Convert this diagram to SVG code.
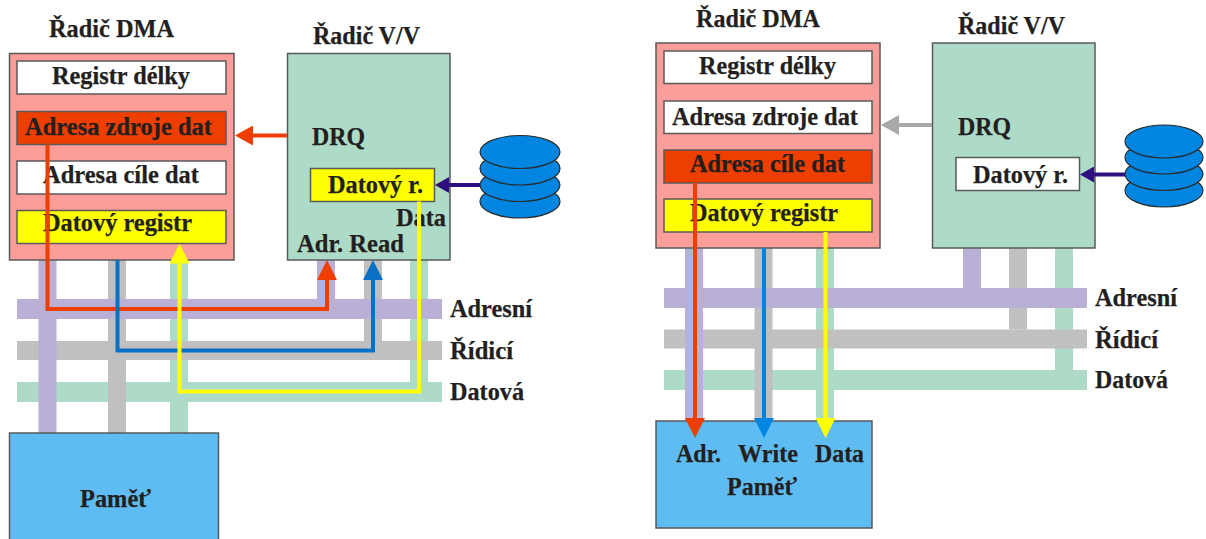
<svg xmlns="http://www.w3.org/2000/svg" width="1206" height="539" viewBox="0 0 1206 539">
<style>
text{font-family:"Liberation Serif","Times New Roman",serif;font-weight:700;font-size:25.5px;fill:#231f20;stroke:#231f20;stroke-width:.25}
.box{stroke:#5a5a5a;stroke-width:1.5}
.dma{fill:#fb9d98}.io{fill:#addbc8}.mem{fill:#5fbcf2}
.wh{fill:#fff}.re{fill:#ee3f00}.ye{fill:#ffff00}
.bp{fill:#bab0d5}.bg{fill:#c0c0c0}.bt{fill:#addbc8}
.disk{fill:#0085e0;stroke:#2a2a2a;stroke-width:1.2}
.ln{fill:none;stroke-width:4;stroke-linejoin:miter}
.lr{stroke:#ee3f00}.lb{stroke:#0a70c4}.lc{stroke:#0085e0}.ly{stroke:#ffff00}.lv{stroke:#2f0f80}.lg{stroke:#a8a8a8}
</style>
<defs>
<marker id="hR" markerUnits="userSpaceOnUse" markerWidth="20" markerHeight="20" refX="0" refY="10" orient="auto"><path d="M0 0L20 10L0 20z" fill="#ee3f00"/></marker>
<marker id="hB" markerUnits="userSpaceOnUse" markerWidth="20" markerHeight="20" refX="0" refY="10" orient="auto"><path d="M0 0L20 10L0 20z" fill="#0a70c4"/></marker>
<marker id="hC" markerUnits="userSpaceOnUse" markerWidth="20" markerHeight="20" refX="0" refY="10" orient="auto"><path d="M0 0L20 10L0 20z" fill="#0085e0"/></marker>
<marker id="hY" markerUnits="userSpaceOnUse" markerWidth="20" markerHeight="20" refX="0" refY="10" orient="auto"><path d="M0 0L20 10L0 20z" fill="#ffff00"/></marker>
<marker id="sR" markerUnits="userSpaceOnUse" markerWidth="18" markerHeight="20" refX="0" refY="10" orient="auto"><path d="M0 0L18 10L0 20z" fill="#ee3f00"/></marker>
<marker id="sG" markerUnits="userSpaceOnUse" markerWidth="18" markerHeight="20" refX="0" refY="10" orient="auto"><path d="M0 0L18 10L0 20z" fill="#a8a8a8"/></marker>
<marker id="sV" markerUnits="userSpaceOnUse" markerWidth="14" markerHeight="16" refX="0" refY="8" orient="auto"><path d="M0 0L14 8L0 16z" fill="#2f0f80"/></marker>
</defs>

<g id="sbernice-vlevo">
<rect class="bt" x="17" y="382" width="425" height="20"/>
<rect class="bt" x="170" y="260" width="18" height="173"/>
<rect class="bt" x="410" y="260" width="18" height="122"/>
<rect class="bg" x="17" y="341" width="425" height="19"/>
<rect class="bg" x="108" y="260" width="18" height="173"/>
<rect class="bg" x="364" y="260" width="18" height="81"/>
<rect class="bp" x="17" y="299" width="425" height="20"/>
<rect class="bp" x="38.500" y="260" width="18" height="173"/>
<rect class="bp" x="317" y="260" width="18" height="39"/>
<text x="450" y="317" textLength="82" lengthAdjust="spacingAndGlyphs">Adresní</text>
<text x="450" y="359" textLength="63" lengthAdjust="spacingAndGlyphs">Řídicí</text>
<text x="450" y="400" textLength="74" lengthAdjust="spacingAndGlyphs">Datová</text>
</g>

<g id="sbernice-vpravo">
<rect class="bt" x="664" y="370" width="423" height="20"/>
<rect class="bt" x="816" y="248" width="18" height="173"/>
<rect class="bt" x="1055" y="248" width="18" height="122"/>
<rect class="bg" x="664" y="329.500" width="423" height="19"/>
<rect class="bg" x="754.500" y="248" width="18" height="173"/>
<rect class="bg" x="1009" y="248" width="18" height="81.500"/>
<rect class="bp" x="664" y="288" width="423" height="20"/>
<rect class="bp" x="685" y="248" width="18" height="173"/>
<rect class="bp" x="963" y="248" width="18" height="40"/>
<text x="1095" y="306" textLength="82" lengthAdjust="spacingAndGlyphs">Adresní</text>
<text x="1095" y="348" textLength="63" lengthAdjust="spacingAndGlyphs">Řídicí</text>
<text x="1095" y="388" textLength="73" lengthAdjust="spacingAndGlyphs">Datová</text>
</g>

<g id="dma-vlevo">
<text x="49" y="37" textLength="125" lengthAdjust="spacingAndGlyphs">Řadič DMA</text>
<rect class="box dma" x="9.500" y="53.500" width="224.500" height="206.500"/>
<rect class="box wh" x="17" y="61" width="209" height="33"/>
<rect class="box re" x="17" y="111.500" width="209" height="33"/>
<rect class="box wh" x="17" y="161" width="209" height="33"/>
<rect class="box ye" x="17" y="210.500" width="209" height="33"/>
<text x="52" y="84" textLength="138" lengthAdjust="spacingAndGlyphs">Registr délky</text>
<text x="25" y="135" textLength="187" lengthAdjust="spacingAndGlyphs">Adresa zdroje dat</text>
<text x="43" y="183" textLength="156" lengthAdjust="spacingAndGlyphs">Adresa cíle dat</text>
<text x="43" y="231" textLength="149" lengthAdjust="spacingAndGlyphs">Datový registr</text>
</g>

<g id="vv-vlevo">
<text x="313" y="44" textLength="107" lengthAdjust="spacingAndGlyphs">Řadič V/V</text>
<rect class="box io" x="287.500" y="53.500" width="162.500" height="206.500"/>
<text x="312" y="145" textLength="53" lengthAdjust="spacingAndGlyphs">DRQ</text>
<rect class="box ye" x="310.500" y="168.500" width="124" height="33"/>
<text x="328" y="193" textLength="95" lengthAdjust="spacingAndGlyphs">Datový r.</text>
<text x="396" y="226" textLength="50" lengthAdjust="spacingAndGlyphs">Data</text>
<text x="297" y="252" textLength="107" lengthAdjust="spacingAndGlyphs">Adr. Read</text>
</g>

<g id="disk-vlevo">
<ellipse class="disk" cx="520" cy="201.500" rx="40" ry="16.500"/>
<ellipse class="disk" cx="520" cy="185" rx="40" ry="16.500"/>
<ellipse class="disk" cx="520" cy="168.500" rx="40" ry="16.500"/>
<ellipse class="disk" cx="520" cy="152" rx="40" ry="16.500"/>
</g>

<g id="pamet-vlevo">
<rect class="box mem" x="9.500" y="433" width="209" height="110"/>
<text x="80" y="507" textLength="71" lengthAdjust="spacingAndGlyphs">Paměť</text>
</g>

<g id="dma-vpravo">
<text x="696" y="27" textLength="124" lengthAdjust="spacingAndGlyphs">Řadič DMA</text>
<rect class="box dma" x="656" y="43" width="224" height="205"/>
<rect class="box wh" x="664" y="51" width="208" height="32.500"/>
<rect class="box wh" x="664" y="101" width="208" height="32.500"/>
<rect class="box re" x="664" y="150" width="208" height="33"/>
<rect class="box ye" x="664" y="199" width="208" height="33"/>
<text x="699" y="74" textLength="137" lengthAdjust="spacingAndGlyphs">Registr délky</text>
<text x="672" y="125" textLength="186" lengthAdjust="spacingAndGlyphs">Adresa zdroje dat</text>
<text x="690" y="172" textLength="155" lengthAdjust="spacingAndGlyphs">Adresa cíle dat</text>
<text x="690" y="221" textLength="148" lengthAdjust="spacingAndGlyphs">Datový registr</text>
</g>

<g id="vv-vpravo">
<text x="958" y="34" textLength="107" lengthAdjust="spacingAndGlyphs">Řadič V/V</text>
<rect class="box io" x="932.500" y="43" width="162.500" height="205"/>
<text x="958" y="135" textLength="53" lengthAdjust="spacingAndGlyphs">DRQ</text>
<rect class="box wh" x="956" y="157.500" width="123.500" height="33"/>
<text x="973" y="183" textLength="95" lengthAdjust="spacingAndGlyphs">Datový r.</text>
</g>

<g id="disk-vpravo">
<ellipse class="disk" cx="1164" cy="190.500" rx="39" ry="16.500"/>
<ellipse class="disk" cx="1164" cy="174" rx="39" ry="16.500"/>
<ellipse class="disk" cx="1164" cy="157.500" rx="39" ry="16.500"/>
<ellipse class="disk" cx="1164" cy="141.500" rx="39" ry="16.500"/>
</g>

<g id="pamet-vpravo">
<rect class="box mem" x="656" y="421" width="216" height="107"/>
<text x="676" y="462" textLength="45" lengthAdjust="spacingAndGlyphs">Adr.</text>
<text x="738" y="462" textLength="60" lengthAdjust="spacingAndGlyphs">Write</text>
<text x="815" y="462" textLength="49" lengthAdjust="spacingAndGlyphs">Data</text>
<text x="727" y="495" textLength="70" lengthAdjust="spacingAndGlyphs">Paměť</text>
</g>

<g id="spoje">
<path class="ln lr" d="M47.500 144.500V309H327V280" marker-end="url(#hR)"/>
<path class="ln lb" d="M117.500 260V350.500H373V280" marker-end="url(#hB)"/>
<path class="ln ly" d="M419 201.500V391.500H179.500V263.500" marker-end="url(#hY)"/>
<path class="ln lr" d="M287 135.500H253" marker-end="url(#sR)"/>
<path class="ln lv" d="M480 185H449" marker-end="url(#sV)"/>
<path class="ln lg" d="M932 125H899" marker-end="url(#sG)"/>
<path class="ln lv" d="M1125 174.500H1094" marker-end="url(#sV)"/>
<path class="ln lr" d="M695 183V418" marker-end="url(#hR)"/>
<path class="ln lc" d="M764 248V418" marker-end="url(#hC)"/>
<path class="ln ly" d="M825.500 232V418" marker-end="url(#hY)"/>
</g>
</svg>
